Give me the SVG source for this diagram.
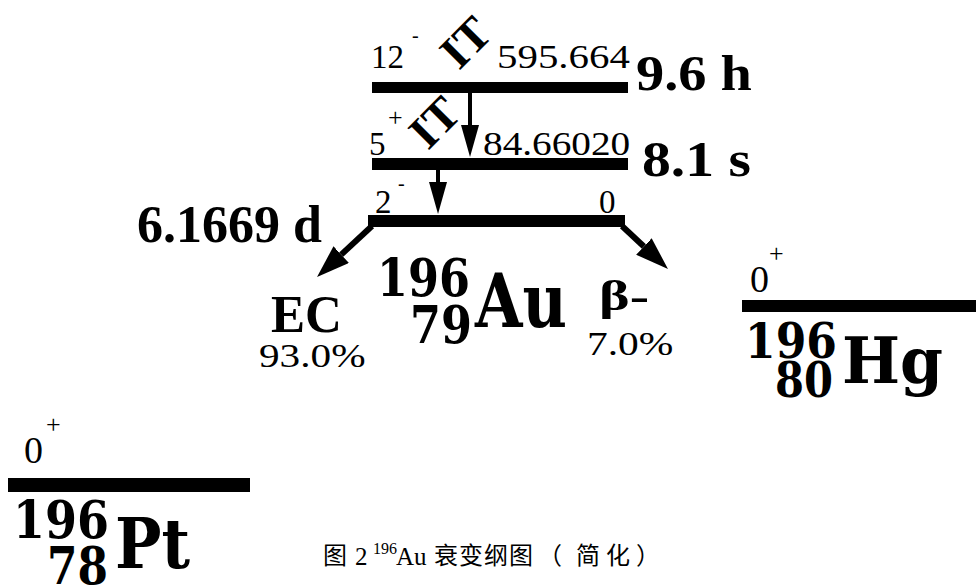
<svg xmlns="http://www.w3.org/2000/svg" width="976" height="587" viewBox="0 0 976 587">
<style>
.num{font-family:"Liberation Serif","Times New Roman",serif;font-size:33px;fill:#000}
.sup{font-family:"Liberation Serif","Times New Roman",serif;font-size:26px;fill:#000}
.bold{font-family:"Liberation Serif","Times New Roman",serif;font-weight:bold;fill:#000}
.nuc{font-family:"DejaVu Serif",serif;font-weight:bold;fill:#000}
.bar{fill:#000}
.cap{font-family:"Liberation Serif","Noto Sans CJK SC",serif;font-size:25px;fill:#000}
.cjk{font-family:"Noto Sans CJK SC","Noto Sans CJK JP",sans-serif;font-size:24px;fill:#000}
</style>
<defs>
<marker id="ah" viewBox="0 0 16 9" refX="0" refY="4.5" markerWidth="8" markerHeight="4.5" markerUnits="strokeWidth" orient="auto">
<path d="M0,0 L16,4.5 L0,9 Z" fill="#000"/>
</marker>
<marker id="ah2" viewBox="0 0 16 11" refX="0" refY="5.5" markerWidth="5.5" markerHeight="3.8" markerUnits="strokeWidth" orient="auto">
<path d="M0,0 L16,5.5 L0,11 Z" fill="#000"/>
</marker>
</defs>
<rect width="976" height="587" fill="#fff"/>

<g id="level-12">
<rect class="bar" x="372" y="82" width="256" height="11"/>
<text class="num" x="371" y="68">12</text>
<text class="sup" x="412" y="42" style="font-size:20px">-</text>
<text class="num" transform="translate(497,68) scale(1.24,1)">595.664</text>
<text class="bold" x="636" y="90" style="font-size:50px" textLength="116" lengthAdjust="spacingAndGlyphs">9.6 h</text>
<text class="bold" x="0" y="0" style="font-size:47px" transform="translate(459,71) rotate(-45)">IT</text>
</g>

<g id="level-5">
<rect class="bar" x="372" y="158" width="256" height="12"/>
<text class="num" x="369" y="155">5</text>
<text class="sup" x="388" y="126">+</text>
<text class="num" transform="translate(483,155) scale(1.19,1)">84.66020</text>
<text class="bold" x="642" y="176" style="font-size:50px" textLength="109" lengthAdjust="spacingAndGlyphs">8.1 s</text>
<text class="bold" x="0" y="0" style="font-size:47px" transform="translate(428,151) rotate(-45)">IT</text>
</g>

<g id="level-2">
<rect class="bar" x="368" y="215" width="257" height="12"/>
<text class="num" x="375" y="213">2</text>
<text class="sup" x="398" y="190" style="font-size:20px">-</text>
<text class="num" x="599" y="213">0</text>
<text class="bold" x="137" y="242" style="font-size:52px" textLength="185" lengthAdjust="spacingAndGlyphs">6.1669 d</text>
</g>

<g id="au196">
<text class="nuc" x="377" y="296" style="font-size:52px" textLength="93" lengthAdjust="spacingAndGlyphs">196</text>
<text class="nuc" x="410" y="343" style="font-size:52px" textLength="62" lengthAdjust="spacingAndGlyphs">79</text>
<text class="nuc" x="475" y="327" style="font-size:74px" textLength="92" lengthAdjust="spacingAndGlyphs">Au</text>
</g>

<g id="ec-label">
<text class="bold" x="271" y="332" style="font-size:52px" textLength="71" lengthAdjust="spacingAndGlyphs">EC</text>
<text class="num" transform="translate(259,367) scale(1.25,1)">93.0%</text>
</g>

<g id="beta-label">
<text class="bold" x="599" y="310" style="font-size:42px" textLength="50" lengthAdjust="spacingAndGlyphs">β-</text>
<text class="num" transform="translate(587,355) scale(1.22,1)" style="font-size:34px">7.0%</text>
</g>

<g id="hg196">
<rect class="bar" x="742" y="300" width="234" height="12"/>
<text class="num" x="750" y="292" style="font-size:38px">0</text>
<text class="sup" x="769" y="262">+</text>
<text class="nuc" x="745" y="358" style="font-size:48px" textLength="92" lengthAdjust="spacingAndGlyphs">196</text>
<text class="nuc" x="775" y="397" style="font-size:48px" textLength="58" lengthAdjust="spacingAndGlyphs">80</text>
<text class="nuc" x="842" y="383" style="font-size:63px" textLength="101" lengthAdjust="spacingAndGlyphs">Hg</text>
</g>

<g id="pt196">
<rect class="bar" x="8" y="478" width="242" height="14"/>
<text class="num" x="24" y="463" style="font-size:38px">0</text>
<text class="sup" x="46" y="433">+</text>
<text class="nuc" x="13" y="538" style="font-size:52px" textLength="96" lengthAdjust="spacingAndGlyphs">196</text>
<text class="nuc" x="47" y="584" style="font-size:52px" textLength="61" lengthAdjust="spacingAndGlyphs">78</text>
<text class="nuc" x="115" y="568" style="font-size:70px" textLength="75" lengthAdjust="spacingAndGlyphs">Pt</text>
</g>

<g id="connectors" stroke="#000" fill="none">
<line x1="470" y1="93" x2="470" y2="125" stroke-width="4" marker-end="url(#ah)"/>
<line x1="438" y1="170" x2="438" y2="182" stroke-width="4" marker-end="url(#ah)"/>
<line x1="372" y1="226" x2="341.2" y2="254.6" stroke-width="6" marker-end="url(#ah2)"/>
<line x1="622" y1="226" x2="643.9" y2="246.5" stroke-width="6" marker-end="url(#ah2)"/>
</g>

<g id="caption">
<text class="cjk" x="323" y="564">图</text>
<text class="cap" x="355" y="565">2</text>
<text class="cap" x="373" y="554" style="font-size:16px">196</text>
<text class="cap" x="396" y="565">Au</text>
<text class="cjk" y="564"><tspan x="434">衰</tspan><tspan x="459">变</tspan><tspan x="484">纲</tspan><tspan x="509">图</tspan><tspan x="538">（</tspan><tspan x="576">简</tspan><tspan x="606">化</tspan><tspan x="636">）</tspan></text>
</g>
</svg>
